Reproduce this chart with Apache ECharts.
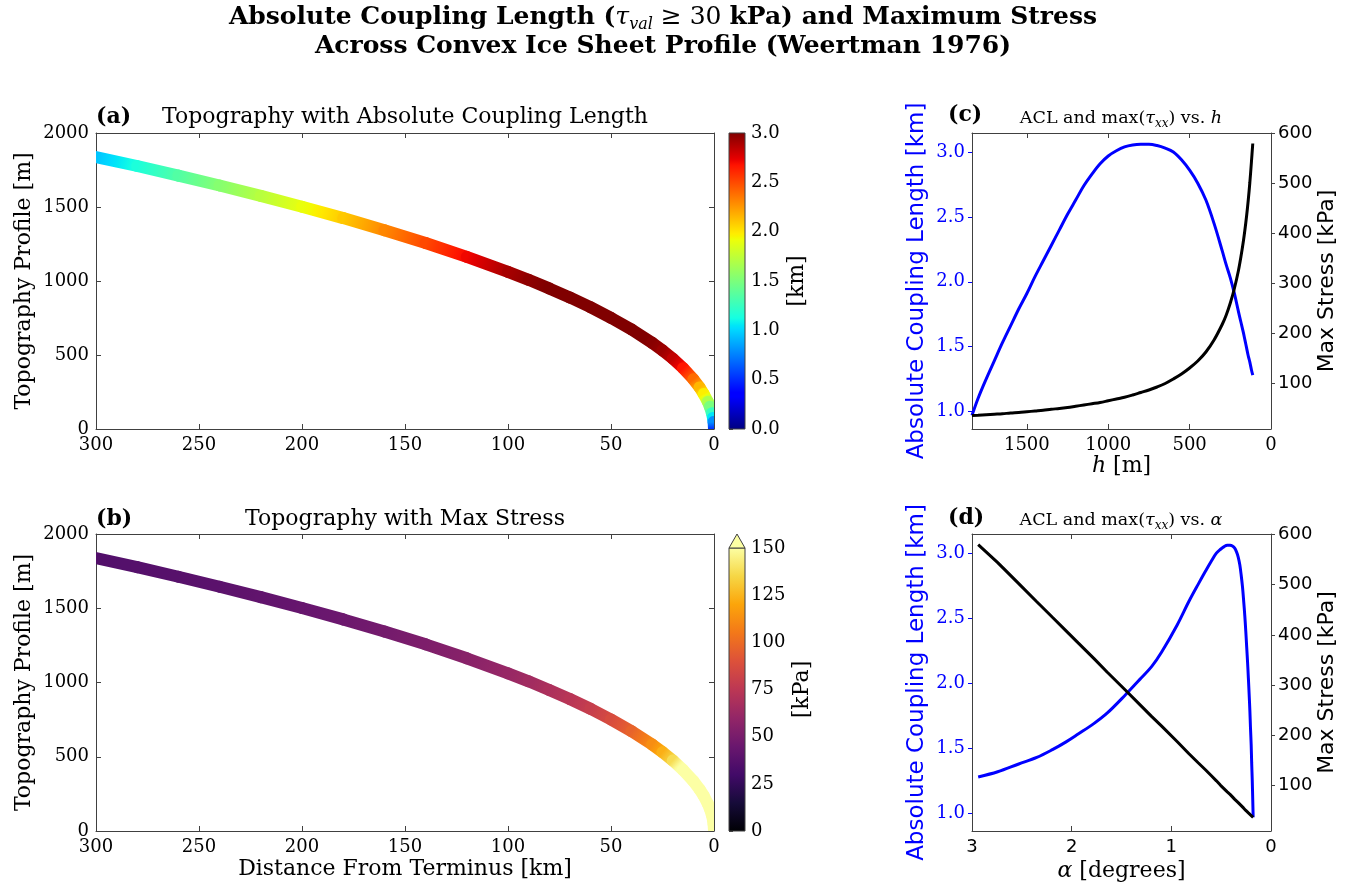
<!DOCTYPE html>
<html><head><meta charset="utf-8">
<script src="https://cdn.jsdelivr.net/npm/echarts@6/dist/echarts.min.js"></script>
<style>html,body{margin:0;padding:0;background:#fff}#c{width:1352px;height:888px}</style>
</head><body><div id="c"></div>
<script>
// ---------- data ----------
const distKm = [300,280,260,240,220,200,180,160,140,120,100,90,80,70,60,50,40,30,25,20,15,10,7,5,3,2,1,0.5,0.2,0];
const elevM  = [1837,1777,1712,1645,1575,1502,1425,1343,1257,1163,1062,1008,950,889,823,751,672,582,531,475,411,336,281,237,184,150,106,75,47,0];
const aclProfileKm = [0.95,1.15,1.35,1.54,1.72,1.90,2.09,2.30,2.50,2.71,2.90,2.96,3.01,3.04,3.05,3.06,3.04,2.98,2.93,2.83,2.66,2.39,2.15,1.97,1.68,1.49,1.25,1.05,0.80,0.50];
const stressProfileKPa = [36,37,38,39.5,41.5,43.5,45.8,48.6,52,56,61.5,65,69,73.5,79,87,97,112,123,137,159,194,232,275,355,435,600,850,1400,3000];

const hM = [1837,1800,1750,1700,1650,1600,1550,1500,1450,1400,1350,1300,1250,1200,1150,1100,1050,1000,950,900,850,800,750,700,650,600,550,500,450,400,350,300,275,250,225,200,185,170,160,150,140,130,120,112];
const aclKm = [0.97,1.10,1.25,1.39,1.53,1.66,1.79,1.91,2.04,2.16,2.28,2.40,2.52,2.63,2.74,2.83,2.91,2.97,3.01,3.04,3.055,3.06,3.06,3.05,3.03,3.00,2.94,2.86,2.76,2.63,2.45,2.24,2.13,2.03,1.91,1.77,1.69,1.61,1.55,1.49,1.43,1.38,1.32,1.28];
const maxStressKPa = [36,36.5,37.5,38.5,39.5,41,42,43.5,45,46.5,48.5,50,52,54.5,57,59.5,62,65.5,69,72.5,77,82,87,93,100,109,119,131,145,163,187,218,237,261,290,326,353,384,408,435,466,502,544,580];
const alphaDeg = [0.179,0.183,0.188,0.194,0.199,0.206,0.212,0.219,0.227,0.235,0.244,0.253,0.263,0.274,0.286,0.299,0.313,0.329,0.346,0.366,0.387,0.411,0.439,0.470,0.506,0.548,0.598,0.658,0.731,0.823,0.940,1.097,1.196,1.316,1.462,1.645,1.778,1.935,2.056,2.193,2.350,2.531,2.742,2.938];

const hTicks = [0,500,1000,1500];
const aclTicks = [1.0,1.5,2.0,2.5,3.0];
const stressTicks = [100,200,300,400,500,600];

// ---------- colormaps ----------
const jetStops = [[0,'#000080'],[0.11,'#0000ff'],[0.125,'#0000ff'],[0.34,'#00dbff'],[0.35,'#00e6f7'],[0.375,'#15ffe2'],[0.64,'#eeff08'],[0.65,'#f7f500'],[0.66,'#ffec00'],[0.89,'#ff1300'],[0.91,'#e80000'],[1,'#800000']];
const infernoStops = [[0,'#000004'],[0.1,'#160b39'],[0.2,'#420a68'],[0.3,'#6a176e'],[0.4,'#932667'],[0.5,'#bc3754'],[0.6,'#dd513a'],[0.7,'#f37819'],[0.8,'#fca50a'],[0.9,'#f6d746'],[1,'#fcffa4']];

const SPINE = '#404040';
const SERIF = 'DejaVu Serif';
const SANS = 'DejaVu Sans';

function hexToRgb(h){return [parseInt(h.slice(1,3),16),parseInt(h.slice(3,5),16),parseInt(h.slice(5,7),16)];}
function cmap(stops,t){
  t=Math.max(0,Math.min(1,t));
  for(let k=1;k<stops.length;k++){
    if(t<=stops[k][0]){
      const a=stops[k-1], b=stops[k];
      const f=(t-a[0])/((b[0]-a[0])||1);
      const ca=hexToRgb(a[1]), cb=hexToRgb(b[1]);
      return 'rgb('+ca.map((c,j)=>Math.round(c+(cb[j]-c)*f)).join(',')+')';
    }
  }
  return stops[stops.length-1][1];
}

function makeProfileRender(values, stops, vmin, vmax){
  return function(params, api){
    const i = params.dataIndex;
    if (i >= distKm.length-1) return null;
    const p1 = api.coord([distKm[i], elevM[i]]);
    const p2 = api.coord([distKm[i+1], elevM[i+1]]);
    const v1 = values[i], v2 = values[i+1];
    const cs = [];
    for (let k=0;k<=6;k++){const t=k/6; cs.push({offset:t, color:cmap(stops,(v1+(v2-v1)*t-vmin)/(vmax-vmin))});}
    const r = params.coordSys;
    return {type:'polyline', shape:{points:[p1,p2]},
      style:{fill:null, stroke:{type:'linear',x:p1[0],y:p1[1],x2:p2[0],y2:p2[1],global:true,colorStops:cs}, lineWidth:12, lineCap:'round'},
      clipPath:{type:'rect', shape:{x:r.x,y:r.y,width:r.width,height:r.height}}};
  };
}
function makeBarRender(stops, vmax, arrow){
  return function(params, api){
    const p0 = api.coord([0, vmax]), p1 = api.coord([1, 0]);
    const x=p0[0], y=p0[1], w=p1[0]-p0[0], h=p1[1]-p0[1];
    const ch=[{type:'rect', shape:{x:x,y:y,width:w,height:h},
      style:{fill:{type:'linear',x:0,y:1,x2:0,y2:0,colorStops:stops.map(s=>({offset:s[0],color:s[1]}))}, stroke:SPINE, lineWidth:1}}];
    if(arrow) ch.push({type:'polygon', shape:{points:[[x,y],[x+w,y],[x+w/2,y-14]]}, style:{fill:stops[stops.length-1][1], stroke:SPINE, lineWidth:1}});
    return {type:'group', children:ch};
  };
}

const plain = v => String(v);
function axLine(){return {show:true,onZero:false,lineStyle:{color:SPINE,width:1}};}
function tick(inside,color,extra){return Object.assign({show:true,inside:inside,length:inside?5:4,lineStyle:{color:color||SPINE,width:1}},extra||{});}
function lab(show,extra){return Object.assign({show:show,fontFamily:SERIF,fontSize:18,color:'#000',margin:7,formatter:plain},extra||{});}
const nameStyle = {fontFamily:SERIF,fontSize:22,color:'#000'};
const italicRich = {i:{fontFamily:SERIF,fontStyle:'italic',fontSize:22}};

const xAxis = [
  {gridIndex:0,type:'value',position:'bottom',min:0,max:300,interval:50,inverse:true,splitLine:{show:false},axisLine:axLine(),axisTick:tick(true),axisLabel:lab(true)},
  {gridIndex:0,type:'value',position:'top',min:0,max:300,interval:50,inverse:true,splitLine:{show:false},axisLine:axLine(),axisTick:tick(true),axisLabel:lab(false)},
  {gridIndex:1,type:'value',min:0,max:1,show:false},
  {gridIndex:2,type:'value',position:'bottom',min:0,max:300,interval:50,inverse:true,splitLine:{show:false},axisLine:axLine(),axisTick:tick(true),axisLabel:lab(true),
    name:'Distance From Terminus [km]',nameLocation:'middle',nameGap:27,nameTextStyle:nameStyle},
  {gridIndex:2,type:'value',position:'top',min:0,max:300,interval:50,inverse:true,splitLine:{show:false},axisLine:axLine(),axisTick:tick(true),axisLabel:lab(false)},
  {gridIndex:3,type:'value',min:0,max:1,show:false},
  {gridIndex:4,type:'value',position:'bottom',min:0,max:hM[0],inverse:true,splitLine:{show:false},axisLine:axLine(),
    axisTick:tick(true,SPINE,{customValues:hTicks}),axisLabel:lab(true,{customValues:hTicks}),
    name:'{i|h} [m]',nameLocation:'middle',nameGap:26,nameTextStyle:Object.assign({},nameStyle,{rich:italicRich})},
  {gridIndex:4,type:'value',position:'top',min:0,max:hM[0],inverse:true,splitLine:{show:false},axisLine:axLine(),
    axisTick:tick(true,SPINE,{customValues:hTicks}),axisLabel:lab(false)},
  {gridIndex:5,type:'value',position:'bottom',min:0,max:3,interval:1,inverse:true,splitLine:{show:false},axisLine:axLine(),axisTick:tick(true),axisLabel:lab(true,{fontFamily:SANS}),
    name:'{i|α} [degrees]',nameLocation:'middle',nameGap:29,nameTextStyle:Object.assign({},nameStyle,{rich:italicRich})},
  {gridIndex:5,type:'value',position:'top',min:0,max:3,interval:1,inverse:true,splitLine:{show:false},axisLine:axLine(),axisTick:tick(true),axisLabel:lab(false)}
];

const aclMin=0.865, aclMax=3.147, sMin=9, sMax=601;
const blueLab = {fontFamily:SANS,fontSize:23,color:'#0000ff'};
const blackSans = {fontFamily:SANS,fontSize:22,color:'#000'};
const yAxis = [
  {gridIndex:0,type:'value',position:'left',min:0,max:2000,interval:500,splitLine:{show:false},axisLine:axLine(),axisTick:tick(true),axisLabel:lab(true),
    name:'Topography Profile [m]',nameLocation:'middle',nameRotate:90,nameGap:61,nameTextStyle:nameStyle},
  {gridIndex:0,type:'value',position:'right',min:0,max:2000,interval:500,splitLine:{show:false},axisLine:axLine(),axisTick:tick(true),axisLabel:lab(false)},
  {gridIndex:1,type:'value',position:'right',min:0,max:3,interval:0.5,splitLine:{show:false},axisLine:{show:false},axisTick:tick(false,SPINE,{length:4}),
    axisLabel:lab(true,{formatter:v=>v.toFixed(1),margin:6}),name:'[km]',nameLocation:'middle',nameRotate:90,nameGap:41,nameTextStyle:nameStyle},
  {gridIndex:2,type:'value',position:'left',min:0,max:2000,interval:500,splitLine:{show:false},axisLine:axLine(),axisTick:tick(true),axisLabel:lab(true),
    name:'Topography Profile [m]',nameLocation:'middle',nameRotate:90,nameGap:61,nameTextStyle:nameStyle},
  {gridIndex:2,type:'value',position:'right',min:0,max:2000,interval:500,splitLine:{show:false},axisLine:axLine(),axisTick:tick(true),axisLabel:lab(false)},
  {gridIndex:3,type:'value',position:'right',min:0,max:150,interval:25,splitLine:{show:false},axisLine:{show:false},axisTick:tick(false,SPINE,{length:4}),
    axisLabel:lab(true,{margin:6}),name:'[kPa]',nameLocation:'middle',nameRotate:90,nameGap:46,nameTextStyle:nameStyle},
  {gridIndex:4,type:'value',position:'left',min:aclMin,max:aclMax,splitLine:{show:false},axisLine:axLine(),
    axisTick:tick(false,'#0000ff',{customValues:aclTicks}),axisLabel:lab(true,{customValues:aclTicks,color:'#0000ff',formatter:v=>v.toFixed(1)}),
    name:'Absolute Coupling Length [km]',nameLocation:'middle',nameRotate:90,nameGap:43,nameTextStyle:blueLab},
  {gridIndex:4,type:'value',position:'right',min:sMin,max:sMax,splitLine:{show:false},axisLine:axLine(),
    axisTick:tick(false,SPINE,{customValues:stressTicks}),axisLabel:lab(true,{customValues:stressTicks,fontFamily:SANS}),
    name:'Max Stress [kPa]',nameLocation:'middle',nameRotate:90,nameGap:44,nameTextStyle:blackSans},
  {gridIndex:5,type:'value',position:'left',min:aclMin,max:aclMax,splitLine:{show:false},axisLine:axLine(),
    axisTick:tick(false,'#0000ff',{customValues:aclTicks}),axisLabel:lab(true,{customValues:aclTicks,color:'#0000ff',formatter:v=>v.toFixed(1)}),
    name:'Absolute Coupling Length [km]',nameLocation:'middle',nameRotate:90,nameGap:43,nameTextStyle:blueLab},
  {gridIndex:5,type:'value',position:'right',min:sMin,max:sMax,splitLine:{show:false},axisLine:axLine(),
    axisTick:tick(false,SPINE,{customValues:stressTicks}),axisLabel:lab(true,{customValues:stressTicks,fontFamily:SANS}),
    name:'Max Stress [kPa]',nameLocation:'middle',nameRotate:90,nameGap:44,nameTextStyle:blackSans}
];

const grid = [
  {left:96,top:133,width:618,height:296},
  {left:729,top:133,width:16,height:296},
  {left:96,top:534,width:618,height:297},
  {left:729,top:548,width:16,height:283},
  {left:972,top:133,width:299,height:296},
  {left:972,top:534,width:299,height:297}
].map(g=>Object.assign(g,{containLabel:false,outerBoundsMode:'none'}));

const profileData = distKm.map((d,i)=>[d,elevM[i]]);
const series = [
  {type:'custom',xAxisIndex:0,yAxisIndex:0,data:profileData,encode:{x:0,y:1},renderItem:makeProfileRender(aclProfileKm,jetStops,0,3),silent:true},
  {type:'custom',xAxisIndex:2,yAxisIndex:2,data:[[0.5,1]],encode:{x:0,y:1},renderItem:makeBarRender(jetStops,3,false),silent:true},
  {type:'custom',xAxisIndex:3,yAxisIndex:3,data:profileData,encode:{x:0,y:1},renderItem:makeProfileRender(stressProfileKPa,infernoStops,0,150),silent:true},
  {type:'custom',xAxisIndex:5,yAxisIndex:5,data:[[0.5,1]],encode:{x:0,y:1},renderItem:makeBarRender(infernoStops,150,true),silent:true},
  {type:'line',xAxisIndex:6,yAxisIndex:6,data:hM.map((h,i)=>[h,aclKm[i]]),smooth:0.35,showSymbol:false,lineStyle:{color:'#0000ff',width:3},itemStyle:{color:'#0000ff'},silent:true},
  {type:'line',xAxisIndex:6,yAxisIndex:7,data:hM.map((h,i)=>[h,maxStressKPa[i]]),smooth:0.35,showSymbol:false,lineStyle:{color:'#000',width:3},itemStyle:{color:'#000'},silent:true},
  {type:'line',xAxisIndex:8,yAxisIndex:8,data:alphaDeg.map((a,i)=>[a,aclKm[i]]),smooth:0.35,showSymbol:false,lineStyle:{color:'#0000ff',width:3},itemStyle:{color:'#0000ff'},silent:true},
  {type:'line',xAxisIndex:8,yAxisIndex:9,data:alphaDeg.map((a,i)=>[a,maxStressKPa[i]]),showSymbol:false,lineStyle:{color:'#000',width:3},itemStyle:{color:'#000'},silent:true}
];

function txt(x,y,text,font,align,rich){
  return {type:'text',x:x,y:y,z:100,style:{text:text,font:font,fill:'#000',textAlign:align,align:align,textVerticalAlign:'middle',verticalAlign:'middle',rich:rich||undefined}};
}
const titleRich = {
  b:{fontFamily:SERIF,fontWeight:'bold',fontSize:25,lineHeight:32,verticalAlign:'middle'},
  m:{fontFamily:SERIF,fontStyle:'italic',fontSize:25,lineHeight:32,verticalAlign:'middle'},
  s:{fontFamily:SERIF,fontStyle:'italic',fontSize:16,lineHeight:24,verticalAlign:'bottom'},
  r:{fontFamily:SERIF,fontSize:25,lineHeight:32,verticalAlign:'middle'}
};
const subRich = {
  t:{fontFamily:SERIF,fontSize:17.5,lineHeight:24,verticalAlign:'middle'},
  m:{fontFamily:SERIF,fontStyle:'italic',fontSize:17.5,lineHeight:24,verticalAlign:'middle'},
  s:{fontFamily:SERIF,fontStyle:'italic',fontSize:12,lineHeight:18,verticalAlign:'bottom'}
};
const graphic = [
  txt(663,17,'{b|Absolute Coupling Length (}{m|τ}{s|val}{r| ≥ 30 }{b|kPa) and Maximum Stress}','bold 25px DejaVu Serif','center',titleRich),
  txt(663,46,'Across Convex Ice Sheet Profile (Weertman 1976)','bold 25px DejaVu Serif','center'),
  txt(96,117,'(a)','bold 22px DejaVu Serif','left'),
  txt(405,117,'Topography with Absolute Coupling Length','22px DejaVu Serif','center'),
  txt(96,519,'(b)','bold 22px DejaVu Serif','left'),
  txt(405,519,'Topography with Max Stress','22px DejaVu Serif','center'),
  txt(948,115,'(c)','bold 22px DejaVu Serif','left'),
  txt(1121,118,'{t|ACL and max(}{m|τ}{s|xx}{t|) vs. }{m|h}','17.5px DejaVu Serif','center',subRich),
  txt(948,518,'(d)','bold 22px DejaVu Serif','left'),
  txt(1121,520,'{t|ACL and max(}{m|τ}{s|xx}{t|) vs. }{m|α}','17.5px DejaVu Serif','center',subRich)
];

const chart = echarts.init(document.getElementById('c'),null,{renderer:'canvas'});
chart.setOption({animation:false,backgroundColor:'#fff',grid:grid,xAxis:xAxis,yAxis:yAxis,series:series,graphic:graphic});
</script></body></html>
